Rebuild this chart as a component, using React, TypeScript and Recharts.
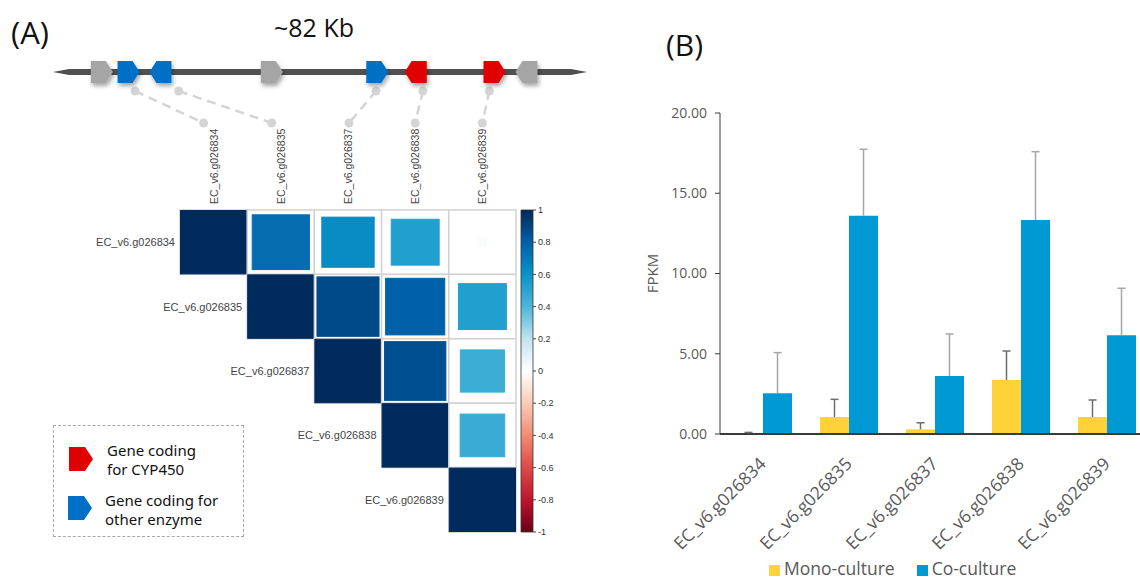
import React from 'react';
import {
  ScatterChart, Scatter, XAxis, YAxis, ReferenceLine,
  BarChart, Bar, Legend, Label,
} from 'recharts';

// ---------------- data ----------------
const geneIds = ['EC_v6.g026834', 'EC_v6.g026835', 'EC_v6.g026837', 'EC_v6.g026838', 'EC_v6.g026839'];

// gene cluster map (~82 kb)
const CLUSTER_KB = 82;
const mapGeneKb = [7.5, 11.6, 16.5, 33.6, 49.8, 55.7, 67.8, 72.7];
const mapGeneStrand = [1, 1, -1, 1, 1, -1, 1, -1];
const mapGeneType = ['other', 'enzyme', 'enzyme', 'other', 'enzyme', 'cyp450', 'cyp450', 'other'];
const linkStartKb = [12.6, 19.3, 49.6, 56.8, 67.0];

// correlation matrix, upper triangle (row i, columns i..4)
const corrRows = [
  [1, 0.75, 0.63, 0.53, 0.02],
  [1, 0.88, 0.8, 0.53],
  [1, 0.86, 0.45],
  [1, 0.46],
  [1],
];
const colorbarTicks = [1, 0.8, 0.6, 0.4, 0.2, 0, -0.2, -0.4, -0.6, -0.8, -1];

// FPKM
const monoMean = [0.05, 1.06, 0.29, 3.36, 1.06];
const monoSd = [0.05, 1.1, 0.41, 1.81, 1.06];
const coMean = [2.54, 13.6, 3.61, 13.33, 6.15];
const coSd = [2.53, 4.14, 2.62, 4.26, 2.93];
const fpkmTicks = [0, 5, 10, 15, 20];

// ---------------- styling / layout ----------------
const colorStops: [number, string][] = [
  [-1, '#6a0017'], [-0.8, '#c0142c'], [-0.6, '#dd4a48'], [-0.4, '#f28b74'], [-0.2, '#fbcbb5'],
  [0, '#ffffff'], [0.2, '#c2e3ef'], [0.4, '#4db5d9'], [0.6, '#0a93c9'], [0.8, '#0060a8'], [1, '#002a5c'],
];
function hex(c: string) { return [1, 3, 5].map((i) => parseInt(c.slice(i, i + 2), 16)); }
function corrColor(v: number) {
  for (let i = 0; i < colorStops.length - 1; i++) {
    const [a, ca] = colorStops[i];
    const [b, cb] = colorStops[i + 1];
    if (v >= a && v <= b) {
      const t = (v - a) / (b - a);
      const A = hex(ca), B = hex(cb);
      const m = A.map((x, k) => Math.round(x + (B[k] - x) * t));
      return `rgb(${m[0]},${m[1]},${m[2]})`;
    }
  }
  return colorStops[colorStops.length - 1][1];
}
const geneColors: Record<string, string> = { other: '#a5a5a5', enzyme: '#0070c6', cyp450: '#e00000' };

const MAP_LEFT = 53, MAP_RIGHT = 587;
const HM_LEFT = 180, HM_RIGHT = 516, HM_TOP = 210, HM_BOTTOM = 532;
const CW = (HM_RIGHT - HM_LEFT) / 5;
const CH = (HM_BOTTOM - HM_TOP) / 5;
const GENE_Y = 6.44, LINK_TOP_Y = 4.33, LINK_BOT_Y = 0.78;
const LINK_END_SHIFT = [-10, -9, 1, 0, 0];

const pxToKb = (px: number) => ((px - MAP_LEFT) / (MAP_RIGHT - MAP_LEFT)) * CLUSTER_KB;

const mapGenes = mapGeneKb.map((kb, i) => ({ x: kb, y: GENE_Y, strand: mapGeneStrand[i], type: mapGeneType[i] }));
const links = linkStartKb.map((kb, i) => [
  { x: kb, y: LINK_TOP_Y },
  { x: pxToKb(HM_LEFT + (i + 0.5) * CW + LINK_END_SHIFT[i]), y: LINK_BOT_Y },
]);

const corrCells: { col: string; row: string; r: number }[] = [];
corrRows.forEach((vals, i) => vals.forEach((r, j) => corrCells.push({ row: geneIds[i], col: geneIds[i + j], r })));

const colorbarData = [{ k: 'scale', span: [-1, 1] }];

const barData = geneIds.map((g, i) => ({ name: g, mono: monoMean[i], co: coMean[i] }));

// ---------------- shapes ----------------
function GeneArrow(props: any) {
  const { cx, cy, payload } = props;
  const h = 11, body = 4, tip = 11;
  const d = payload.strand;
  const pts = d > 0
    ? [[cx - 11, cy - h], [cx + body, cy - h], [cx + tip, cy], [cx + body, cy + h], [cx - 11, cy + h]]
    : [[cx + 11, cy - h], [cx - body, cy - h], [cx - tip, cy], [cx - body, cy + h], [cx + 11, cy + h]];
  return <polygon points={pts.map((p) => p.join(',')).join(' ')} fill={geneColors[payload.type]} filter="url(#gshadow)" />;
}
function LinkDot(props: any) {
  return <circle cx={props.cx} cy={props.cy} r={4.5} fill="#d4d4d4" />;
}
function Chromosome(props: any) {
  const { x1, y1, x2 } = props;
  const y = y1, t = 16, hw = 3;
  const d = `M${x1},${y} L${x1 + t},${y - hw} L${x2 - t},${y - hw} L${x2},${y} L${x2 - t},${y + hw} L${x1 + t},${y + hw} Z`;
  return <path d={d} fill="#505050" />;
}
function CorrCell(props: any) {
  const { cx, cy, payload } = props;
  const k = Math.sqrt(Math.abs(payload.r));
  const col = corrColor(payload.r);
  return (
    <g>
      <rect x={cx - CW / 2} y={cy - CH / 2} width={CW} height={CH} fill="#fff" stroke="#d2d2d2" strokeWidth={1.5} />
      <rect x={cx - (CW * k) / 2 + 0.5} y={cy - (CH * k) / 2 + 0.5} width={CW * k - 1} height={CH * k - 1}
        fill={col} stroke={col} strokeWidth={1} />
    </g>
  );
}
function HmColTick(props: any) {
  const { x, payload } = props;
  const y = HM_TOP - 6;
  return (
    <text x={x} y={y} transform={`rotate(-90 ${x} ${y})`} textAnchor="start" dominantBaseline="central"
      fontSize={10.5} fill="#444" fontFamily="'Liberation Sans', Arial, sans-serif">{payload.value}</text>
  );
}
function HmRowTick(props: any) {
  const { y, payload } = props;
  const idx = geneIds.indexOf(payload.value);
  const x = HM_LEFT + idx * CW - 5;
  return (
    <text x={x} y={y} textAnchor="end" dominantBaseline="central" fontSize={11} fill="#444"
      fontFamily="'Liberation Sans', Arial, sans-serif">{payload.value}</text>
  );
}
function BarXTick(props: any) {
  const { x, y, payload } = props;
  const ax = x + 4, ay = y + 23;
  return (
    <text x={ax} y={ay} transform={`rotate(-45 ${ax} ${ay})`} textAnchor="end" fontSize={17.5} fill="#595959"
      fontFamily="'Open Sans', sans-serif">{payload.value}</text>
  );
}
// one-sided (upper) error whisker drawn on top of each bar, scaled by the bar's own px/unit
function makeErr(means: number[], sds: number[], stroke: string) {
  return (p: any) => {
    const vb = p.viewBox || p;
    const x = p.x ?? vb.x, y = p.y ?? vb.y, w = p.width ?? vb.width, h = p.height ?? vb.height;
    const idx = typeof p.index === 'number' ? p.index : means.indexOf(p.value);
    if (idx < 0 || x == null) return null;
    const pxPerUnit = Math.abs(h) / means[idx];
    const top = y - sds[idx] * pxPerUnit;
    const cx = x + w / 2;
    return (
      <g key={`e${idx}`}>
        <line x1={cx} y1={y} x2={cx} y2={top} stroke={stroke} strokeWidth={1.5} />
        <line x1={cx - 4} y1={top} x2={cx + 4} y2={top} stroke={stroke} strokeWidth={1.5} />
      </g>
    );
  };
}

const abs = (l: number, t: number): React.CSSProperties => ({ position: 'absolute', left: l, top: t });

export default function App() {
  return (
    <div style={{ position: 'absolute', left: 0, top: 0, width: 1140, height: 583, overflow: 'hidden', background: '#fff', fontFamily: "'Open Sans', sans-serif" }}>
      <svg width={0} height={0} style={{ position: 'absolute' }}>
        <defs>
          <filter id="gshadow" x="-40%" y="-40%" width="180%" height="180%">
            <feDropShadow dx={1.5} dy={3} stdDeviation={2} floodColor="#000" floodOpacity={0.35} />
          </filter>
          <linearGradient id="cbar" x1="0" y1="0" x2="0" y2="1">
            {colorStops.slice().reverse().map(([v, c]) => (
              <stop key={v} offset={`${((1 - v) / 2) * 100}%`} stopColor={c} />
            ))}
          </linearGradient>
        </defs>
      </svg>

      {/* titles */}
      <div style={{ ...abs(11, 17), fontSize: 31, color: '#111', lineHeight: 1 }}>(A)</div>
      <div style={{ ...abs(274, 15), fontSize: 25, color: '#111', lineHeight: 1 }}>~82 Kb</div>
      <div style={{ ...abs(666, 30), fontSize: 30, color: '#111', lineHeight: 1 }}>(B)</div>

      {/* heatmap */}
      <div style={abs(0, 0)}>
        <ScatterChart width={600} height={560} margin={{ top: 130, left: 80, right: 84, bottom: 28 }}>
          <XAxis type="category" dataKey="col" orientation="top" height={80} allowDuplicatedCategory={false}
            axisLine={false} tickLine={false} tick={<HmColTick />} interval={0} />
          <YAxis type="category" dataKey="row" width={100} allowDuplicatedCategory={false} reversed
            axisLine={false} tickLine={false} tick={<HmRowTick />} interval={0} />
          <Scatter data={corrCells} shape={<CorrCell />} isAnimationActive={false} />
        </ScatterChart>
      </div>

      {/* colorbar */}
      <div style={abs(0, 0)}>
        <BarChart width={600} height={560} data={colorbarData} margin={{ top: HM_TOP, left: 521, right: 37, bottom: 28 }}
          barCategoryGap={0}>
          <XAxis dataKey="k" hide />
          <YAxis type="number" domain={[-1, 1]} ticks={colorbarTicks} orientation="right" width={30}
            axisLine={false} tickSize={3} tickLine={{ stroke: '#444' }} tickMargin={2}
            tick={{ fontSize: 9, fill: '#333', fontFamily: "'Liberation Sans', Arial, sans-serif" }} interval={0} />
          <Bar dataKey="span" fill="url(#cbar)" stroke="#333" strokeWidth={0.8} isAnimationActive={false} />
        </BarChart>
      </div>

      {/* gene map */}
      <div style={abs(0, 0)}>
        <ScatterChart width={600} height={140} margin={{ top: 40, left: MAP_LEFT, right: 600 - MAP_RIGHT, bottom: 10 }}>
          <XAxis type="number" dataKey="x" domain={[0, CLUSTER_KB]} hide />
          <YAxis type="number" dataKey="y" domain={[0, 10]} hide />
          <ReferenceLine segment={[{ x: 0, y: GENE_Y }, { x: CLUSTER_KB, y: GENE_Y }]} stroke="#505050" strokeWidth={6}
            shape={<Chromosome />} />
          {links.map((pts, i) => (
            <Scatter key={i} data={pts} line={{ stroke: '#d4d4d4', strokeWidth: 2.5, strokeDasharray: '9 6' }}
              lineType="joint" shape={<LinkDot />} isAnimationActive={false} />
          ))}
          <Scatter data={mapGenes} shape={<GeneArrow />} isAnimationActive={false} />
        </ScatterChart>
      </div>

      {/* gene legend */}
      <div style={{ ...abs(53, 425), width: 191, height: 112, border: '1.5px dashed #a8a8a8', boxSizing: 'border-box' }}>
        <svg width={191} height={112} style={{ position: 'absolute', left: -1.5, top: -1.5 }}>
          <polygon points="16,22 32,22 40,34 32,46 16,46" fill={geneColors.cyp450} />
          <polygon points="15,71 31,71 39,83 31,95 15,95" fill={geneColors.enzyme} />
          <g fontFamily="'Noto Sans', sans-serif" fontSize={15} fill="#111">
            <text x={54} y={31}>Gene coding</text>
            <text x={54} y={50}>for CYP450</text>
            <text x={52} y={81}>Gene coding for</text>
            <text x={52} y={100}>other enzyme</text>
          </g>
        </svg>
      </div>

      {/* bar chart */}
      <div style={abs(640, 0)}>
        <BarChart width={510} height={583} data={barData} margin={{ top: 113, right: 0, bottom: 49, left: 0 }}
          barCategoryGap={14} barGap={0}>
          <XAxis dataKey="name" height={100} axisLine={{ stroke: '#3a3a3a', strokeWidth: 2 }} tickLine={false}
            tick={<BarXTick />} interval={0} />
          <YAxis type="number" domain={[0, 20]} ticks={fpkmTicks} width={80} tickFormatter={(v: number) => v.toFixed(2)}
            axisLine={{ stroke: '#3a3a3a' }} tickLine={{ stroke: '#3a3a3a' }} tickSize={5} tickMargin={8}
            tick={{ fontSize: 14, fill: '#595959', fontFamily: "'Open Sans', sans-serif" }}>
            <Label content={(p: any) => {
              const vb = p.viewBox || {};
              const cx = 12, cy = vb.y + vb.height / 2;
              return (
                <text x={cx} y={cy} transform={`rotate(-90 ${cx} ${cy})`} textAnchor="middle" dominantBaseline="central"
                  fontSize={15} fill="#595959" fontFamily="'Open Sans', sans-serif">FPKM</text>
              );
            }} />
          </YAxis>
          <Legend layout="horizontal" verticalAlign="middle" iconType="square" iconSize={11}
            itemSorter={(item: any) => (item.dataKey === 'mono' ? 0 : 1)}
            wrapperStyle={{ top: 557, left: 129, width: 'auto', lineHeight: '22px' }}
            formatter={(v: string) => (
              <span style={{ color: '#595959', fontSize: 17.5, marginRight: 12 }}>{v}</span>
            )} />
          <Bar dataKey="mono" name="Mono-culture" fill="#ffd23a" isAnimationActive={false}
            label={makeErr(monoMean, monoSd, '#6e6e6e')} />
          <Bar dataKey="co" name="Co-culture" fill="#0099d4" isAnimationActive={false}
            label={makeErr(coMean, coSd, '#a6a6a6')} />
        </BarChart>
      </div>
    </div>
  );
}
